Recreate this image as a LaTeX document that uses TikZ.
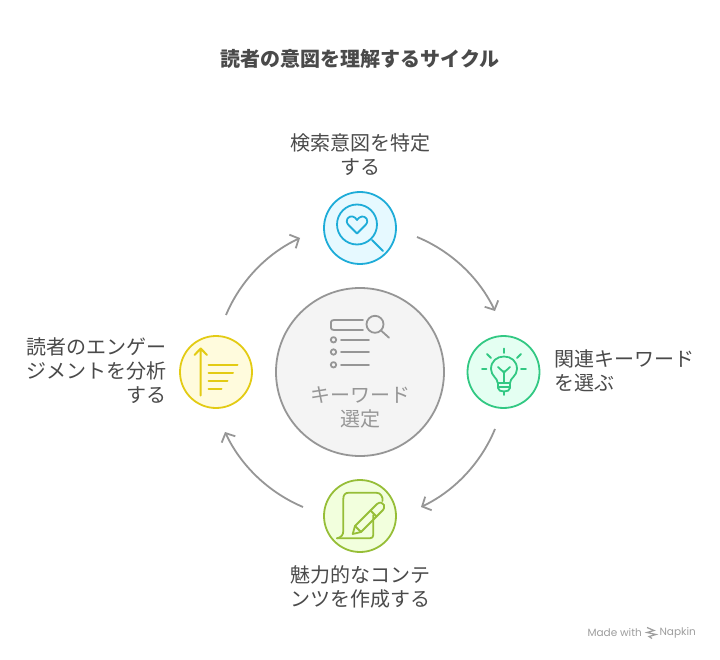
\documentclass[tikz,border=0pt]{standalone}
\usepackage{fontspec}
\setmainfont{Noto Sans CJK JP}
\newfontfamily\madefont{Poppins}
\usetikzlibrary{arrows.meta}
\definecolor{txt}{HTML}{4A4A4A}
\definecolor{gr}{HTML}{969696}
\definecolor{blu}{HTML}{1EACD8}\definecolor{blubg}{HTML}{E6F9FF}
\definecolor{grn}{HTML}{32C883}\definecolor{grnbg}{HTML}{E4FFF2}
\definecolor{lim}{HTML}{96BE37}\definecolor{limbg}{HTML}{F2FFDD}
\definecolor{yel}{HTML}{E3CB14}\definecolor{yelbg}{HTML}{FFFBDD}
\tikzset{
 x=1pt,y=-1pt,
 lab/.style={text=txt,font=\fontsize{20}{24}\selectfont,align=center,inner sep=0pt},
 stepc/.style={circle,draw=#1,line width=1.8pt,minimum size=72pt,inner sep=0pt},
 cyc/.style={draw=gr,line width=1.8pt,-{Straight Barb[length=7pt,width=15pt,line width=1.8pt]},bend left=21,looseness=.88},
 ic/.style={line width=1.8pt,line cap=round,line join=round},
}
\begin{document}
\begin{tikzpicture}
\useasboundingbox (0,0) rectangle (720,660);
\fill[white] (0,0) rectangle (720,660);
\node[text=txt,font=\fontsize{20}{24}\selectfont\bfseries,inner sep=0pt] (title) at (360,59) {読者の意図を理解するサイクル};
\node[circle,draw=gr,fill=black!4.5,line width=1.8pt,minimum size=168pt,inner sep=0pt] (core) at (360,372) {};
\node[stepc=blu,fill=blubg] (top) at (360,228) {};
\node[stepc=grn,fill=grnbg] (right) at (503.5,372) {};
\node[stepc=lim,fill=limbg] (bottom) at (360,516) {};
\node[stepc=yel,fill=yelbg] (left) at (216,372) {};
\node[lab] (ltop) at (360,155) {検索意図を特定\\する};
\node[lab,align=left,anchor=west] (lright) at (554,371) {関連キーワード\\を選ぶ};
\node[lab] (lbottom) at (360,587) {魅力的なコンテ\\ンツを作成する};
\node[lab,align=right,anchor=east] (lleft) at (167,371) {読者のエンゲー\\ジメントを分析\\する};
\node[lab,text=gr] (lcore) at (360,407) {キーワード\\選定};
\node[text=black!38,font=\madefont\fontsize{10.5}{12}\selectfont,inner sep=0pt,anchor=east] (made) at (642,632.5) {Made with};
\node[text=black!38,font=\madefont\fontsize{10.5}{12}\selectfont,inner sep=0pt,anchor=east] (nap) at (696,632.5) {Napkin};
\draw[black!38,line width=1.2pt] (647,627.5) -- (654,630.5) -- (647,632.5) -- (656,634.5) -- (649,636.5) -- (652,638.5);
\coordinate (a1) at (417,237); \coordinate (b1) at (495,311);
\coordinate (a2) at (495,429); \coordinate (b2) at (421,507);
\coordinate (a3) at (303,507); \coordinate (b3) at (225,432);
\coordinate (a4) at (226,315); \coordinate (b4) at (300,238);
\draw[cyc] (a1) to (b1);
\draw[cyc] (a2) to (b2);
\draw[cyc] (a3) to (b3);
\draw[cyc] (a4) to (b4);
% top icon
\begin{scope}[ic,draw=blu]
\draw (357,224.5) circle (20);
\draw (372,240) -- (383,251);
\draw (357,233.5) -- (348.5,225) .. controls (344,220) and (349,215.5) .. (352.5,216.5) .. controls (354.5,217) and (356,218) .. (357,220) .. controls (358,218) and (360,217) .. (362,216.5) .. controls (365,216) and (370,220) .. (365.5,225) -- cycle;
\end{scope}
% bulb icon
\begin{scope}[ic,draw=grn]
\draw (497.7,383) .. controls (497.7,378) and (491,376) .. (491,369) .. controls (491,361) and (497,356.5) .. (504,356.5) .. controls (511,356.5) and (517,361) .. (517,369) .. controls (517,376) and (510,378) .. (510,383);
\draw (498,383) -- (510,383) -- (510,388) .. controls (510,390.5) and (507,391.5) .. (504,391.5) .. controls (501,391.5) and (498,390.5) .. (498,388) -- cycle;
\draw (498,387) -- (510,387);
\draw (504,383) -- (504,371) (498,367) -- (504,372.5) -- (510,367);
\draw (504,391.5) -- (504,395);
\draw (504,348.5) -- (504,353);
\draw (487,354) -- (491,358) (521,354) -- (517,358);
\draw (482,369) -- (486.5,369) (521,369) -- (526,369);
\end{scope}
% pen icon
\begin{scope}[ic,draw=lim]
\draw (337,538.3) -- (370,538.3) .. controls (372,538.3) and (373.3,537) .. (373.3,535) -- (373.3,515);
\draw (337,538.3) .. controls (341,537.5) and (343.3,535) .. (343.3,531) -- (343.3,499) .. controls (343.3,495) and (345,492.7) .. (349,492.7) -- (376,492.7) .. controls (381,492.7) and (383,497) .. (382.5,501);
\draw (352.7,534) -- (355,526) -- (374,507) -- (377,504) .. controls (380,501.5) and (383,502.5) .. (384,505) .. controls (384.5,507) and (384,509) .. (383,510) -- (380,513) -- (361,532) -- cycle;
\draw (355,526) -- (361,532);
\draw (370.5,510.5) -- (376.5,516.5);
\end{scope}
% list icon
\begin{scope}[ic,draw=yel,line width=2pt]
\draw (200.7,395.5) -- (200.7,349) (194.5,355) -- (200.7,348.5) -- (207,355);
\draw (208.5,364.7) -- (237.5,364.7) (208.5,373) -- (233,373) (208.5,380.7) -- (227.5,380.7) (208.5,388.7) -- (221.5,388.7);
\end{scope}
% core icon
\begin{scope}[ic,draw=gr,line width=1.8pt]
\draw (363,320) -- (334,320) .. controls (332,320) and (331,321) .. (331,322) -- (331,328) .. controls (331,329) and (332,330) .. (334,330) -- (363,330);
\draw (375,324.3) circle (8.5);
\draw (381,330.5) -- (389,337.7);
\draw (333.5,339.8) circle (2.7) (333.5,352) circle (2.7) (333.5,364.8) circle (2.7);
\draw (341,339.8) -- (369,339.8) (341,352) -- (369,352) (341,364.8) -- (369,364.8);
\end{scope}
\end{tikzpicture}
\end{document}
